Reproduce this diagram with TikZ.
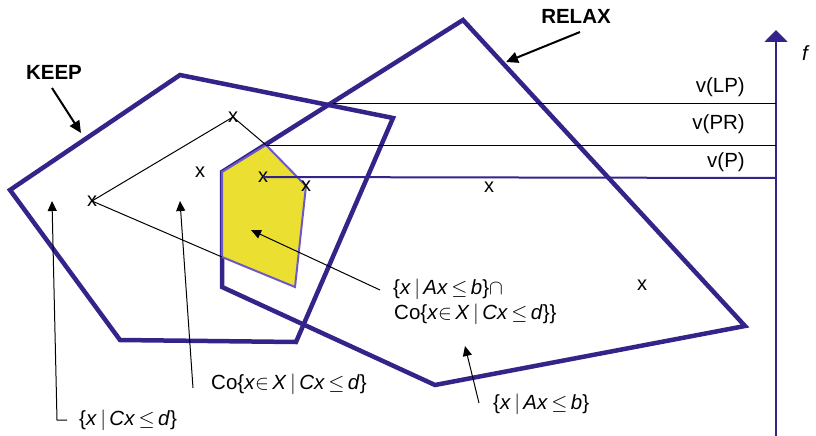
\documentclass[tikz,border=0pt]{standalone}
\usepackage{fontspec}
\setmainfont{Liberation Sans}
\usetikzlibrary{arrows.meta}
\definecolor{pur}{RGB}{52,36,138}
\definecolor{lpur}{RGB}{110,88,200}
\definecolor{yel}{RGB}{235,224,50}
\newcommand{\ix}[1]{\textit{#1}}
\newcommand{\vb}{\,$\big|$\,}
\begin{document}
\begin{tikzpicture}[x=1pt,y=-1pt,
  poly/.style={draw=pur,line width=4.5pt,line join=miter},
  thinln/.style={draw=black,line width=1pt},
  ptr/.style={draw=black,line width=1pt,-{Triangle[length=10pt,width=9pt]}},
  bigptr/.style={draw=black,line width=2pt,-{Triangle[length=12pt,width=11pt]}},
  lbl/.style={font=\fontsize{20.5}{24}\selectfont,inner sep=0pt},
  xmark/.style={font=\fontsize{20}{24}\selectfont,inner sep=0pt},
  boldlbl/.style={font=\fontsize{20.5}{24}\selectfont\bfseries,inner sep=0pt}]
\useasboundingbox (0,0) rectangle (816,436);
% KEEP polygon
\coordinate (k1) at (10,190);
\coordinate (k2) at (180,75);
\coordinate (k3) at (393,118);
\coordinate (k4) at (296,342);
\coordinate (k5) at (120,340);
\draw[poly] (k1) -- (k2) -- (k3) -- (k4) -- (k5) -- cycle;
% RELAX polygon
\coordinate (r1) at (463,20);
\coordinate (r2) at (745,326);
\coordinate (r3) at (435,385);
\coordinate (r4) at (222,287);
\coordinate (r5) at (222,172);
\draw[poly] (r1) -- (r2) -- (r3) -- (r4) -- (r5) -- cycle;
% yellow region
\coordinate (y1) at (222,172);
\coordinate (y2) at (266,145);
\coordinate (y3) at (306,186);
\coordinate (y4) at (295,287);
\coordinate (y5) at (222,257);
\draw[draw=lpur,fill=yel,line width=2pt] (y1) -- (y2) -- (y3) -- (y4) -- (y5) -- cycle;
% axis
\coordinate (ab) at (776,436);
\coordinate (at) at (776,30);
\draw[draw=pur,line width=2pt,-{Triangle[length=12pt,width=23pt]}] (ab) -- (at);
\node[lbl,font=\fontsize{20.5}{24}\selectfont\itshape] (f) at (805,53) {f};
% x marks
\node[xmark] (m1) at (233,117) {x};
\node[xmark] (m2) at (200,172) {x};
\node[xmark] (m3) at (263,177) {x};
\node[xmark] (m4) at (306,186) {x};
\node[xmark] (m5) at (92,201) {x};
\node[xmark] (m6) at (489,187) {x};
\node[xmark] (m7) at (642,285) {x};
% levels
\coordinate (lp0) at (333,103);
\coordinate (lp1) at (776,103);
\coordinate (pr1) at (776,145);
\coordinate (p1) at (776,178);
\draw[thinln] (lp0) -- (lp1);
\draw[thinln] (y2) -- (pr1);
\draw[draw=pur,line width=2pt] (m3.center) -- (p1);
\node[lbl,anchor=east] (vlp) at (745,87) {v(LP)};
\node[lbl,anchor=east] (vpr) at (745,124) {v(PR)};
\node[lbl,anchor=east] (vp) at (745,162) {v(P)};
% hull lines
\draw[thinln] (m5.center) -- (m1.center) -- (y2);
\draw[thinln] (m5.center) -- (y5);
% labels
\node[boldlbl] (keep) at (54,72) {KEEP};
\coordinate (ka) at (52,88);
\coordinate (kb) at (81,133);
\draw[bigptr] (ka) -- (kb);
\node[boldlbl] (relax) at (576,16) {RELAX};
\coordinate (ra) at (580,32);
\coordinate (rb) at (506,62);
\draw[bigptr] (ra) -- (rb);
% set labels
\node[lbl,anchor=west] (t1) at (79,420) {\{\ix{x}\vb\ix{Cx}\,$\leq$\,\ix{d}\}};
\coordinate (t1a) at (67,420);
\coordinate (t1b) at (57,420);
\coordinate (t1c) at (52,201);
\draw[ptr] (t1a) -- (t1b) -- (t1c);
\node[lbl,anchor=west] (t2) at (211,384) {Co\{\ix{x}$\in$\,\ix{X}\vb\ix{Cx}\,$\leq$\,\ix{d}\}};
\coordinate (t2a) at (193,388);
\coordinate (t2b) at (180,201);
\draw[ptr] (t2a) -- (t2b);
\node[lbl,anchor=west] (t3) at (393,289) {\{\ix{x}\vb\ix{Ax}\,$\leq$\,\ix{b}\}$\cap$};
\node[lbl,anchor=west] (t4) at (394,314) {Co\{\ix{x}$\in$\,\ix{X}\vb\ix{Cx}\,$\leq$\,\ix{d}\}\}};
\coordinate (t3a) at (380,290);
\coordinate (t3b) at (251,230);
\draw[ptr] (t3a) -- (t3b);
\node[lbl,anchor=west] (t5) at (493,404) {\{\ix{x}\vb\ix{Ax}\,$\leq$\,\ix{b}\}};
\coordinate (t5a) at (479,403);
\coordinate (t5b) at (465,346);
\draw[ptr] (t5a) -- (t5b);
\end{tikzpicture}
\end{document}
